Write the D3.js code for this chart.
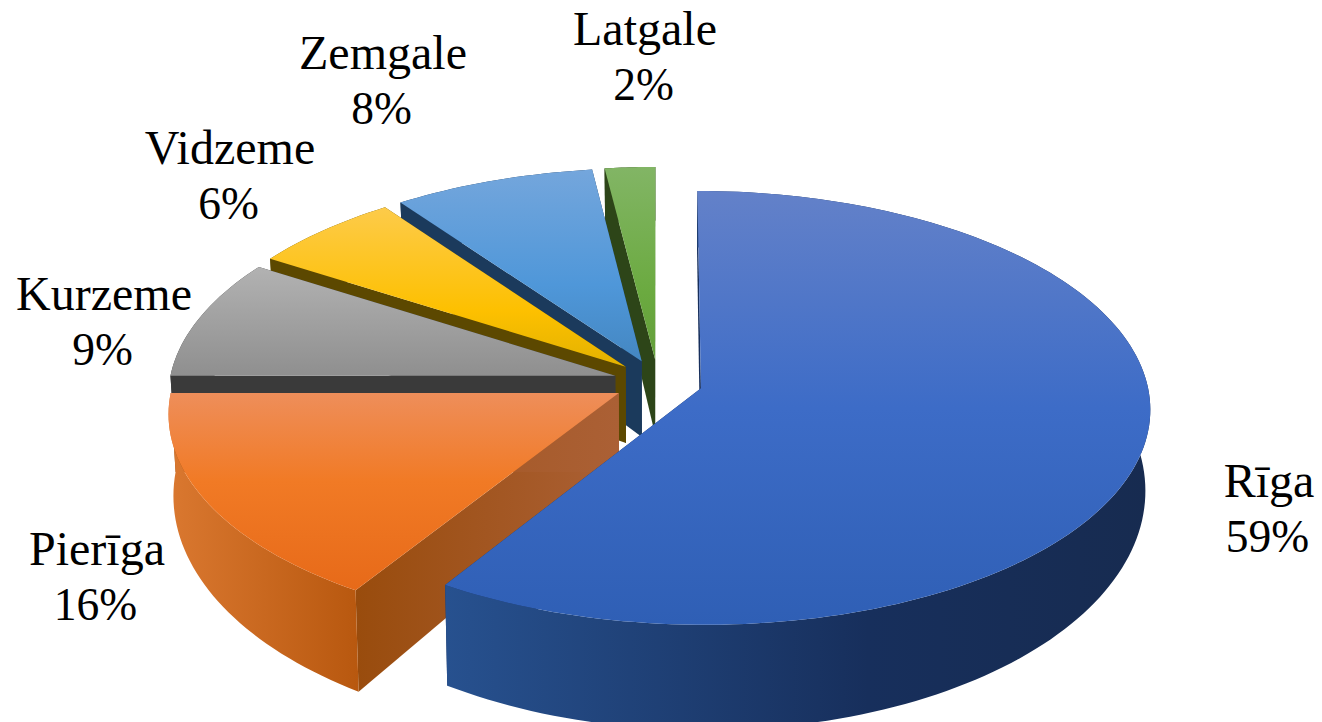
<!DOCTYPE html>
<html><head><meta charset="utf-8">
<script src="https://cdn.jsdelivr.net/npm/d3@7/dist/d3.min.js"></script>
<style>html,body{margin:0;padding:0;background:#fff;overflow:hidden}svg{display:block}
text{font-family:"Liberation Serif",serif;fill:#000;text-anchor:middle}</style>
</head><body><svg id="c" width="1322" height="722"></svg>
<script>
const categories = ["Rīga","Pierīga","Kurzeme","Vidzeme","Zemgale","Latgale"];
const values = [59,16,9,6,8,2];

// layout & style (not data)
const labelX = [1269,97,104,230,383,645];
const labelY = [497,565,310,164,69,45];
const lineGap = 55;
const nameSize = 48, pctSize = 45.5, pctShift = -1.5;
const topStops = [
 [[0,"#6381c9"],[.5,"#3d6cc7"],[1,"#2f5fb5"]],
 [[0,"#ee8e5a"],[.45,"#f17a25"],[1,"#e76a19"]],
 [[0,"#b2b2b2"],[1,"#8f8f8f"]],
 [[0,"#fdcb4a"],[.65,"#fdc000"],[1,"#e3b200"]],
 [[0,"#74a6dc"],[.6,"#4f97d9"],[1,"#4487c2"]],
 [[0,"#82b565"],[.65,"#6baa40"],[1,"#639e3a"]]
];
const wallStops = [
 [[0,"#27518f"],[.6,"#172f5c"],[1,"#172b50"]],
 [[0,"#da7830"],[1,"#b8580f"]],
 [[0,"#3a3a3a"],[1,"#3a3a3a"]],
 [[0,"#5c4800"],[1,"#5c4800"]],
 [[0,"#1b3a5c"],[1,"#1b3a5c"]],
 [[0,"#2d4518"],[1,"#2d4518"]]
];
const faceStops = [
 [[0,"#172f5c"],[1,"#172f5c"]],
 [[0,"#994c0d"],[1,"#ab6035"]],
 [[0,"#3a3a3a"],[1,"#3a3a3a"]],
 [[0,"#5c4800"],[1,"#5c4800"]],
 [[0,"#1b3a5c"],[1,"#1b3a5c"]],
 [[0,"#2d4518"],[1,"#2d4518"]]
];
const cx=658, cy=382, R=446, Rk=214, persp=0.09, explode=0.1, explodeY=1.05;
const depth=78, depthGrow=24, bottomShrink=0.99;

const x = d3.scaleLinear().domain([-1,1]).range([cx-R,cx+R]);
const yTop = d3.scaleLinear().domain([-1,1]).range([cy-Rk,cy+Rk]);
const yBot = d3.scaleLinear().domain([-1,1]).range([cy+depth-Rk-depthGrow,cy+depth+Rk+depthGrow]);

function proj(X,Y,bottom){
  const s=1/(1-Y*persp);
  const xs=bottom? bottomShrink*s : s;
  return [x(X*xs), (bottom? yBot(Y*s) : yTop(Y*s))];
}
const pie = d3.pie().sort(null).startAngle(0).endAngle(2*Math.PI);
const arcs = pie(values);

const svg = d3.select("#c"), defs = svg.append("defs");
function grad(id,stops,vert){
  const g=defs.append("linearGradient").attr("id",id)
    .attr("x1",0).attr("y1",0).attr("x2",vert?0:1).attr("y2",vert?1:0);
  stops.forEach(s=>g.append("stop").attr("offset",s[0]).attr("stop-color",s[1]));
}
const line=d3.line();

const order=d3.range(values.length).reverse(); // back slices first
order.forEach(i=>{
  const a=arcs[i], b=(a.startAngle+a.endAngle)/2;
  const ex=explode*Math.sin(b), ey=-explode*Math.cos(b)*explodeY;
  const n=Math.max(12,Math.ceil((a.endAngle-a.startAngle)*40));
  const th=d3.range(n+1).map(k=>a.startAngle+(a.endAngle-a.startAngle)*k/n);
  const pt=(t,r,bot)=>proj(ex+r*Math.sin(t),ey-r*Math.cos(t),bot);
  const rimTop=th.map(t=>pt(t,1,false)), rimBot=th.map(t=>pt(t,1,true));
  const apexT=pt(0,0,false), apexB=pt(0,0,true);
  const g=svg.append("g").attr("class","slice").datum(categories[i]);
  grad("t"+i,topStops[i],true); grad("w"+i,wallStops[i],false); grad("f"+i,faceStops[i],false);
  // cut faces
  [a.startAngle,a.endAngle].forEach(t=>{
    g.append("path").attr("d",line([apexT,pt(t,1,false),pt(t,1,true),apexB])+"Z")
     .attr("fill",`url(#f${i})`);
  });
  // outer wall
  g.append("path").attr("d",line(rimTop.concat(rimBot.slice().reverse()))+"Z").attr("fill",`url(#w${i})`);
  // top
  g.append("path").attr("d",line([apexT].concat(rimTop))+"Z").attr("fill",`url(#t${i})`);
});

categories.forEach((c,i)=>{
  const t=svg.append("text").attr("x",labelX[i]).attr("y",labelY[i]);
  t.append("tspan").attr("x",labelX[i]).attr("font-size",nameSize).text(c);
  t.append("tspan").attr("x",labelX[i]+pctShift).attr("dy",lineGap).attr("font-size",pctSize).text(values[i]+"%");
});
</script></body></html>
